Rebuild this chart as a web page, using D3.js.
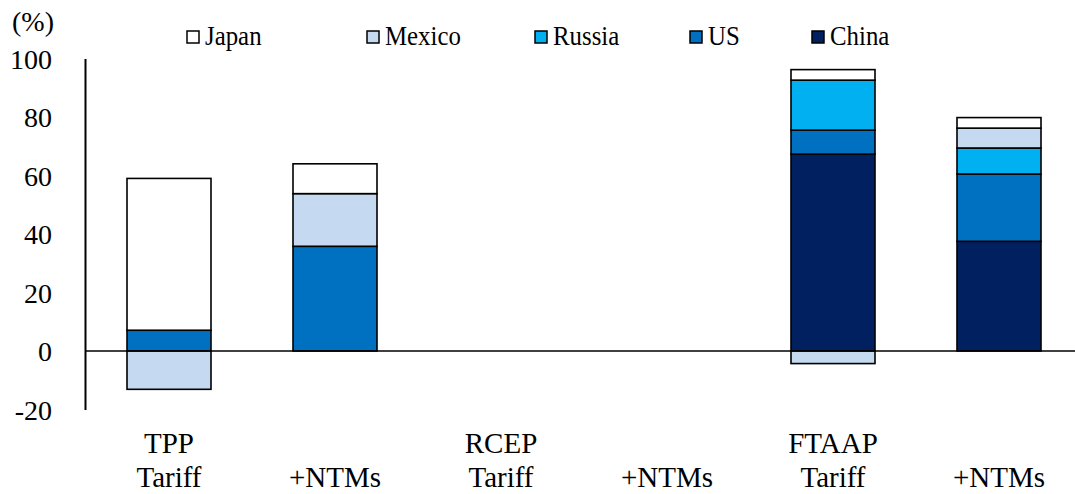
<!DOCTYPE html>
<html>
<head>
<meta charset="utf-8">
<script src="https://cdn.jsdelivr.net/npm/d3@7/dist/d3.min.js"></script>
<style>
  html, body { margin: 0; padding: 0; background: #fff; }
  svg { display: block; }
</style>
</head>
<body>
<svg id="chart" width="1075" height="494"></svg>
<script>
// Scenario groups (two-line labels) and the country contributions (%)
const groupTop    = ["TPP", "", "RCEP", "", "FTAAP", ""];
const groupBottom = ["Tariff", "+NTMs", "Tariff", "+NTMs", "Tariff", "+NTMs"];
const china  = [0,     0,    0, 0, 67.3, 37.5];
const us     = [7.1,   35.8, 0, 0, 8.2,  23.0];
const russia = [0,     0,    0, 0, 17.1, 8.9];
const mexico = [-13.1, 18.0, 0, 0, -4.3, 6.8];
const japan  = [51.9,  10.2, 0, 0, 3.6,  3.6];
const yTicks = [-20, 0, 20, 40, 60, 80, 100];
const legendNames = ["Japan", "Mexico", "Russia", "US", "China"];

const FONT = '"Liberation Serif", "Times New Roman", serif';
const seriesKeys = ["China", "US", "Russia", "Mexico", "Japan"];
const colors = { China: "#002060", US: "#0070C0", Russia: "#00B0F0", Mexico: "#C5D9F1", Japan: "#FFFFFF" };

const rows = groupBottom.map((g, i) => ({
  idx: i, China: china[i], US: us[i], Russia: russia[i], Mexico: mexico[i], Japan: japan[i]
}));

const svg = d3.select("#chart");
const x = d3.scaleBand().domain(d3.range(6)).range([86, 1082]).paddingInner(0.494).paddingOuter(0.247);
const y = d3.scaleLinear().domain([-20, 100]).range([409.5, 58.5]);

const stacked = d3.stack().keys(seriesKeys).offset(d3.stackOffsetDiverging)(rows);

// bars
svg.append("g").selectAll("g").data(stacked).join("g")
  .attr("fill", d => colors[d.key])
  .selectAll("rect").data(d => d.filter(s => s[1] !== s[0])).join("rect")
  .attr("x", d => x(d.data.idx))
  .attr("width", x.bandwidth())
  .attr("y", d => y(Math.max(d[0], d[1])))
  .attr("height", d => Math.abs(y(d[0]) - y(d[1])))
  .attr("stroke", "#000").attr("stroke-width", 1.6);

// zero line
svg.append("line").attr("x1", 85).attr("x2", 1082).attr("y1", y(0)).attr("y2", y(0))
  .attr("stroke", "#000").attr("stroke-width", 1.6);

// y axis
const yAxis = d3.axisLeft(y).tickValues(yTicks).tickSize(0).tickPadding(33).tickFormat(d => String(d));
const ya = svg.append("g").attr("transform", "translate(85,0)").call(yAxis);
ya.select(".domain").attr("stroke", "#000").attr("stroke-width", 2);
ya.selectAll("text").style("font-family", FONT).attr("font-size", 28).attr("fill", "#000").attr("dy", "0.34em");

// unit label
svg.append("text").attr("x", 12).attr("y", 31).style("font-family", FONT).attr("font-size", 28).text("(%)");

// category labels
const cat = svg.append("g").attr("text-anchor", "middle");
rows.forEach((r, i) => {
  const cx = x(i) + x.bandwidth() / 2;
  if (groupTop[i]) cat.append("text").attr("x", cx).attr("y", 453)
    .style("font-family", FONT).attr("font-size", 29).text(groupTop[i]);
  cat.append("text").attr("x", cx).attr("y", 487)
    .style("font-family", FONT).attr("font-size", 29).text(groupBottom[i]);
});

// legend
const legendX = [187, 367, 535, 690, 812];
const lg = svg.append("g");
legendNames.forEach((name, i) => {
  lg.append("rect").attr("x", legendX[i]).attr("y", 31).attr("width", 12).attr("height", 12)
    .attr("fill", colors[name]).attr("stroke", "#000").attr("stroke-width", 1.5);
  lg.append("text").attr("transform", `translate(${legendX[i] + 18},45) scale(0.92,1)`)
    .style("font-family", FONT).attr("font-size", 27).text(name);
});
</script>
</body>
</html>
